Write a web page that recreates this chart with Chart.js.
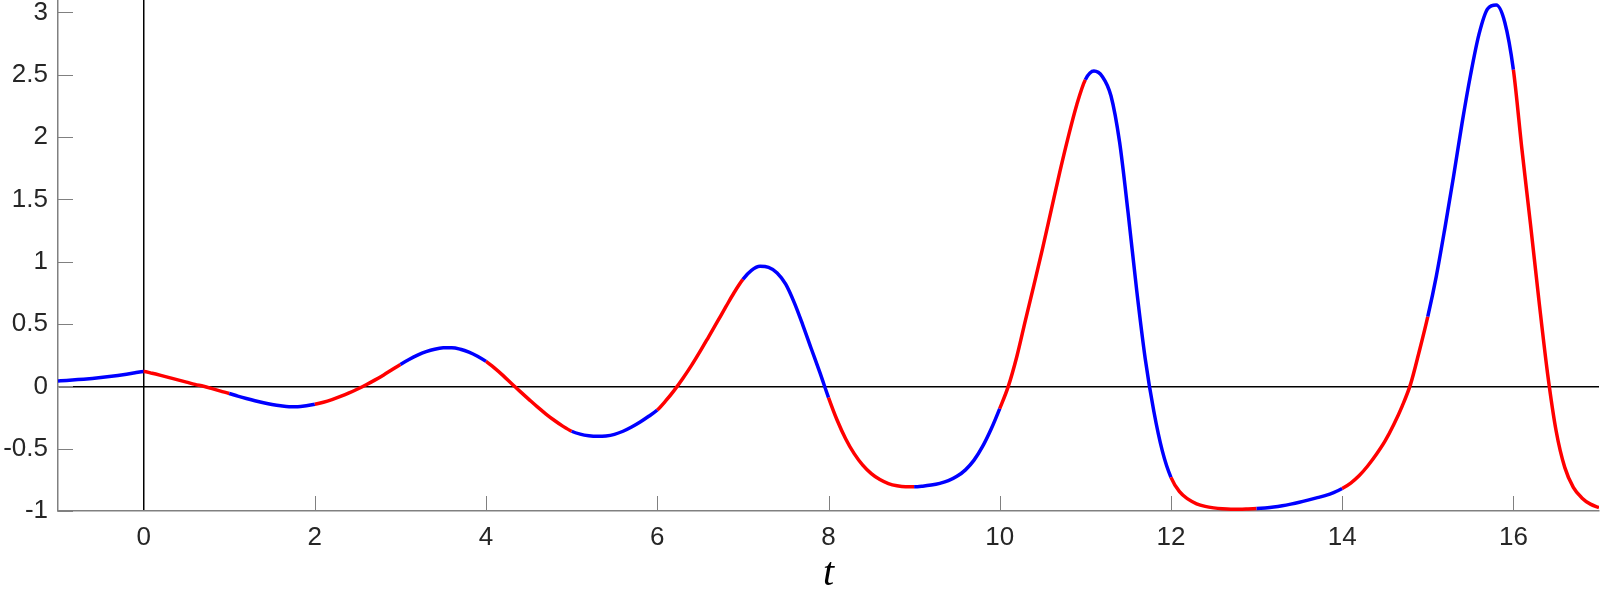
<!DOCTYPE html>
<html>
<head>
<meta charset="utf-8">
<script src="https://cdn.jsdelivr.net/npm/chart.js@4/dist/chart.umd.min.js"></script>
<style>
	html, body { margin: 0; padding: 0; background: #fff; }
	canvas { display: block; }
</style>
</head>
<body>
<canvas id="chart" width="1600" height="590"></canvas>
<script>
// Sample times t (every 0.1).
var tVals = [
	-1.0, -0.9, -0.8, -0.7, -0.6, -0.5, -0.4, -0.3, -0.2, -0.1,
	0.0, 0.1, 0.2, 0.3, 0.4, 0.5, 0.6, 0.7, 0.8, 0.9,
	1.0, 1.1, 1.2, 1.3, 1.4, 1.5, 1.6, 1.7, 1.8, 1.9,
	2.0, 2.1, 2.2, 2.3, 2.4, 2.5, 2.6, 2.7, 2.8, 2.9,
	3.0, 3.1, 3.2, 3.3, 3.4, 3.5, 3.6, 3.7, 3.8, 3.9,
	4.0, 4.1, 4.2, 4.3, 4.4, 4.5, 4.6, 4.7, 4.8, 4.9,
	5.0, 5.1, 5.2, 5.3, 5.4, 5.5, 5.6, 5.7, 5.8, 5.9,
	6.0, 6.1, 6.2, 6.3, 6.4, 6.5, 6.6, 6.7, 6.8, 6.9,
	7.0, 7.1, 7.2, 7.3, 7.4, 7.5, 7.6, 7.7, 7.8, 7.9,
	8.0, 8.1, 8.2, 8.3, 8.4, 8.5, 8.6, 8.7, 8.8, 8.9,
	9.0, 9.1, 9.2, 9.3, 9.4, 9.5, 9.6, 9.7, 9.8, 9.9,
	10.0, 10.1, 10.2, 10.3, 10.4, 10.5, 10.6, 10.7, 10.8, 10.9,
	11.0, 11.1, 11.2, 11.3, 11.4, 11.5, 11.6, 11.7, 11.8, 11.9,
	12.0, 12.1, 12.2, 12.3, 12.4, 12.5, 12.6, 12.7, 12.8, 12.9,
	13.0, 13.1, 13.2, 13.3, 13.4, 13.5, 13.6, 13.7, 13.8, 13.9,
	14.0, 14.1, 14.2, 14.3, 14.4, 14.5, 14.6, 14.7, 14.8, 14.9,
	15.0, 15.1, 15.2, 15.3, 15.4, 15.5, 15.6, 15.7, 15.8, 15.9,
	16.0, 16.1, 16.2, 16.3, 16.4, 16.5, 16.6, 16.7, 16.8, 16.9,
	17.0
];

// Curve value at each sample time.
var yVals = [
	0.044, 0.048, 0.053, 0.058, 0.064, 0.071, 0.079, 0.088, 0.098, 0.109,
	0.120, 0.105, 0.088, 0.070, 0.052, 0.034, 0.016, 0.001, -0.018, -0.038,
	-0.057, -0.078, -0.097, -0.115, -0.131, -0.145, -0.156, -0.163, -0.163, -0.155,
	-0.143, -0.127, -0.106, -0.081, -0.053, -0.021, 0.013, 0.050, 0.090, 0.133,
	0.176, 0.215, 0.250, 0.278, 0.298, 0.309, 0.310, 0.298, 0.275, 0.242,
	0.200, 0.146, 0.086, 0.021, -0.042, -0.104, -0.165, -0.222, -0.274, -0.321,
	-0.360, -0.383, -0.396, -0.401, -0.398, -0.385, -0.360, -0.326, -0.286, -0.240,
	-0.190, -0.115, -0.030, 0.065, 0.168, 0.280, 0.398, 0.517, 0.637, 0.755,
	0.858, 0.930, 0.963, 0.955, 0.910, 0.820, 0.672, 0.492, 0.300, 0.110,
	-0.090, -0.270, -0.420, -0.540, -0.632, -0.700, -0.748, -0.780, -0.798, -0.806,
	-0.806, -0.801, -0.792, -0.778, -0.757, -0.722, -0.670, -0.592, -0.482, -0.342,
	-0.178, 0.000, 0.240, 0.530, 0.815, 1.105, 1.410, 1.715, 2.000, 2.260,
	2.460, 2.530, 2.485, 2.330, 1.960, 1.390, 0.770, 0.220, -0.200, -0.520,
	-0.730, -0.845, -0.905, -0.942, -0.963, -0.975, -0.982, -0.985, -0.985, -0.983,
	-0.980, -0.975, -0.968, -0.958, -0.945, -0.930, -0.913, -0.895, -0.876, -0.852,
	-0.820, -0.776, -0.716, -0.637, -0.545, -0.440, -0.310, -0.160, 0.020, 0.280,
	0.560, 0.885, 1.270, 1.680, 2.110, 2.500, 2.830, 3.030, 3.060, 2.920,
	2.540, 1.900, 1.300, 0.680, 0.100, -0.360, -0.650, -0.810, -0.895, -0.945,
	-0.973
];

var xTicks = [0, 2, 4, 6, 8, 10, 12, 14, 16];
var yTicks = [-1, -0.5, 0, 0.5, 1, 1.5, 2, 2.5, 3];

( function () {
	'use strict';

	var RED  = 'rgb(255, 0, 0)';
	var BLUE = 'rgb(0, 0, 255)';
	var AXIS = '#808080';
	var TICK_FONT = { family: "'Liberation Sans', Arial, sans-serif", size: 26 };

	var points = tVals.map( function ( t, i ) {
		return { x: t, y: yVals[ i ] };
	} );

	// Colour flips at every whole t: even intervals red, odd blue.
	function segColour( ctx ) {
		var mid = ( ctx.p0.parsed.x + ctx.p1.parsed.x ) / 2;
		return Math.abs( Math.floor( mid ) ) % 2 === 0 ? RED : BLUE;
	}

	// MATLAB-style ticks pointing into the plot.
	var inwardTicks = {
		id: 'inwardTicks',
		afterDatasetsDraw: function ( chart ) {
			var c = chart.ctx;
			var area = chart.chartArea;
			var xs = chart.scales.x;
			var ys = chart.scales.y;
			c.save();
			c.strokeStyle = AXIS;
			c.lineWidth = 1;
			c.beginPath();
			xTicks.forEach( function ( v ) {
				var px = Math.round( xs.getPixelForValue( v ) ) + 0.5;
				c.moveTo( px, area.bottom );
				c.lineTo( px, area.bottom - 15 );
			} );
			yTicks.forEach( function ( v ) {
				var py = Math.round( ys.getPixelForValue( v ) ) + 0.5;
				c.moveTo( area.left, py );
				c.lineTo( area.left + 15, py );
			} );
			c.stroke();
			c.restore();
		},
	};

	function zeroLine( ctx ) {
		return ctx.tick && ctx.tick.value === 0 ? '#000' : 'rgba(0,0,0,0)';
	}

	function noPad( s ) {
		s.paddingTop = 0;
		s.paddingBottom = 0;
		s.paddingLeft = 0;
		s.paddingRight = 0;
	}

	new Chart( document.getElementById( 'chart' ), {
		type: 'line',
		data: {
			datasets: [ {
				data:                   points,
				borderWidth:            3.5,
				pointRadius:            0,
				fill:                   false,
				cubicInterpolationMode: 'monotone',
				segment:                { borderColor: segColour },
				borderColor:            BLUE,
			} ],
		},
		options: {
			responsive: false,
			animation:  false,
			events:     [],
			layout:     { padding: { left: 0, right: 1, top: 0, bottom: 0 } },
			plugins: {
				legend:  { display: false },
				tooltip: { enabled: false },
			},
			scales: {
				x: {
					type: 'linear',
					min:  -1,
					max:  17,
					afterBuildTicks: function ( s ) {
						s.ticks = xTicks.map( function ( v ) { return { value: v }; } );
					},
					afterFit: function ( s ) { s.height = 79; noPad( s ); },
					ticks: {
						color:    '#262626',
						font:     TICK_FONT,
						padding:  11,
						maxRotation: 0,
						callback: function ( v ) { return String( v ); },
					},
					grid:   { color: zeroLine, lineWidth: 1.5, drawTicks: false },
					border: { display: true, color: AXIS, width: 1.5 },
					title: {
						display: true,
						text:    't',
						color:   '#000',
						font:    { family: "'Liberation Serif', 'DejaVu Serif', serif", style: 'italic', size: 40, lineHeight: 0.8 },
						padding: { top: 0, bottom: 0 },
					},
				},
				y: {
					min: -1,
					max: 3.1,
					afterBuildTicks: function ( s ) {
						s.ticks = yTicks.map( function ( v ) { return { value: v }; } );
					},
					afterFit: function ( s ) { s.width = 58; noPad( s ); },
					ticks: {
						color:    '#262626',
						font:     TICK_FONT,
						padding:  10,
						callback: function ( v ) { return String( v ); },
					},
					grid:   { color: zeroLine, lineWidth: 1.5, drawTicks: false },
					border: { display: true, color: AXIS, width: 1.5 },
				},
			},
		},
		plugins: [ inwardTicks ],
	} );
} )();
</script>
</body>
</html>
